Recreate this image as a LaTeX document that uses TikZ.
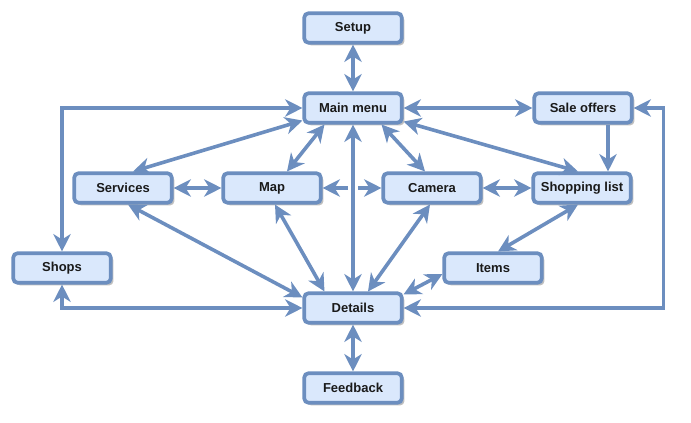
\documentclass[tikz,border=0pt]{standalone}
\usepackage{fontspec}
\setmainfont{Liberation Sans}
\usepackage{tikz}
\usetikzlibrary{arrows.meta}
\usetikzlibrary{calc}
\usetikzlibrary{shadows}
\definecolor{boxfill}{HTML}{DAE8FC}
\definecolor{boxline}{HTML}{6C8EBF}
\definecolor{boxtext}{HTML}{1A1A1A}
\begin{document}
\begin{tikzpicture}[x=0.75pt, y=-0.75pt]
				\useasboundingbox (0,0) rectangle (691,423);
				\begin{scope}[every node/.style = {rectangle, rounded corners=3pt, draw=boxline, fill=boxfill,
						line width=2.8pt, minimum width=73pt, minimum height=22pt, inner sep=0pt,
						text=boxtext, font=\fontsize{9.75pt}{11pt}\selectfont\bfseries,
						drop shadow={shadow xshift=2pt, shadow yshift=-2pt, opacity=0.25, fill=black}}]
					\node (setup) at (353,28) {Setup};
					\node (mainmenu) at (353,108) {Main menu};
					\node (saleoffers) at (583,108) {Sale offers};
					\node (services) at (123,188) {Services};
					\node (map) at (272,188) {Map};
					\node (camera) at (432,188) {Camera};
					\node (shoplist) at (582,188) {Shopping list};
					\node (shops) at (62,268) {Shops};
					\node (items) at (493,268) {Items};
					\node (details) at (353,308) {Details};
					\node (feedback) at (353,388) {Feedback};
				\end{scope}
				\begin{scope}[>={Stealth[length=13pt, width=13pt, inset=4pt]}, color=boxline, line width=2.7pt,
						every edge/.style={draw=boxline, line width=2.7pt}]
					\coordinate (cross) at (mainmenu.south |- map.center);
					\coordinate (rturn) at ($(saleoffers.east)+(30,0)$);
					\path [<->] (setup) edge (mainmenu);
					\draw [<->] (mainmenu.west) -| (shops.north);
					\path [<->] ($(mainmenu.south west)+(0,-4)$) edge ($(services.north)+(10,0)$);
					\path [<->] ($(mainmenu.south west)+(22,0)$) edge ($(map.north)+(15,0)$);
					\path [<->] ($(mainmenu.south east)+(-22,0)$) edge ($(camera.north)+(-7,0)$);
					\path [<->] ($(mainmenu.south east)+(0,-3)$) edge ($(shoplist.north)+(-4,0)$);
					\path [<->] (mainmenu) edge (saleoffers);
					\path [->] ($(saleoffers.south)+(25,0)$) edge ($(shoplist.north)+(26,0)$);
					\path [<->] (services) edge (map);
					\path [<->] (map) edge (camera);
					\draw [white, line width=8pt] ($(cross)+(0,-5)$) -- ($(cross)+(0,5)$);
					\path [<->] (mainmenu) edge (details);
					\path [<->] (camera) edge (shoplist);
					\path [<->] ($(services.south)+(5,0)$) edge ($(details.north west)+(0,6)$);
					\path [<->] ($(map.south)+(3,0)$) edge ($(details.north west)+(22,0)$);
					\path [<->] ($(camera.south)+(-2,0)$) edge ($(details.north)+(15,0)$);
					\path [<->] ($(shoplist.south)+(-4,0)$) edge ($(items.north)+(5,0)$);
					\path [<->] ($(items.west)+(0,6)$) edge ($(details.north east)+(0,3)$);
					\draw [<->] (shops.south) |- (details.west);
					\draw [<->] (details.east) -| (rturn) -- (saleoffers.east);
					\path [<->] (details) edge (feedback);
				\end{scope}
			\end{tikzpicture}
\end{document}
